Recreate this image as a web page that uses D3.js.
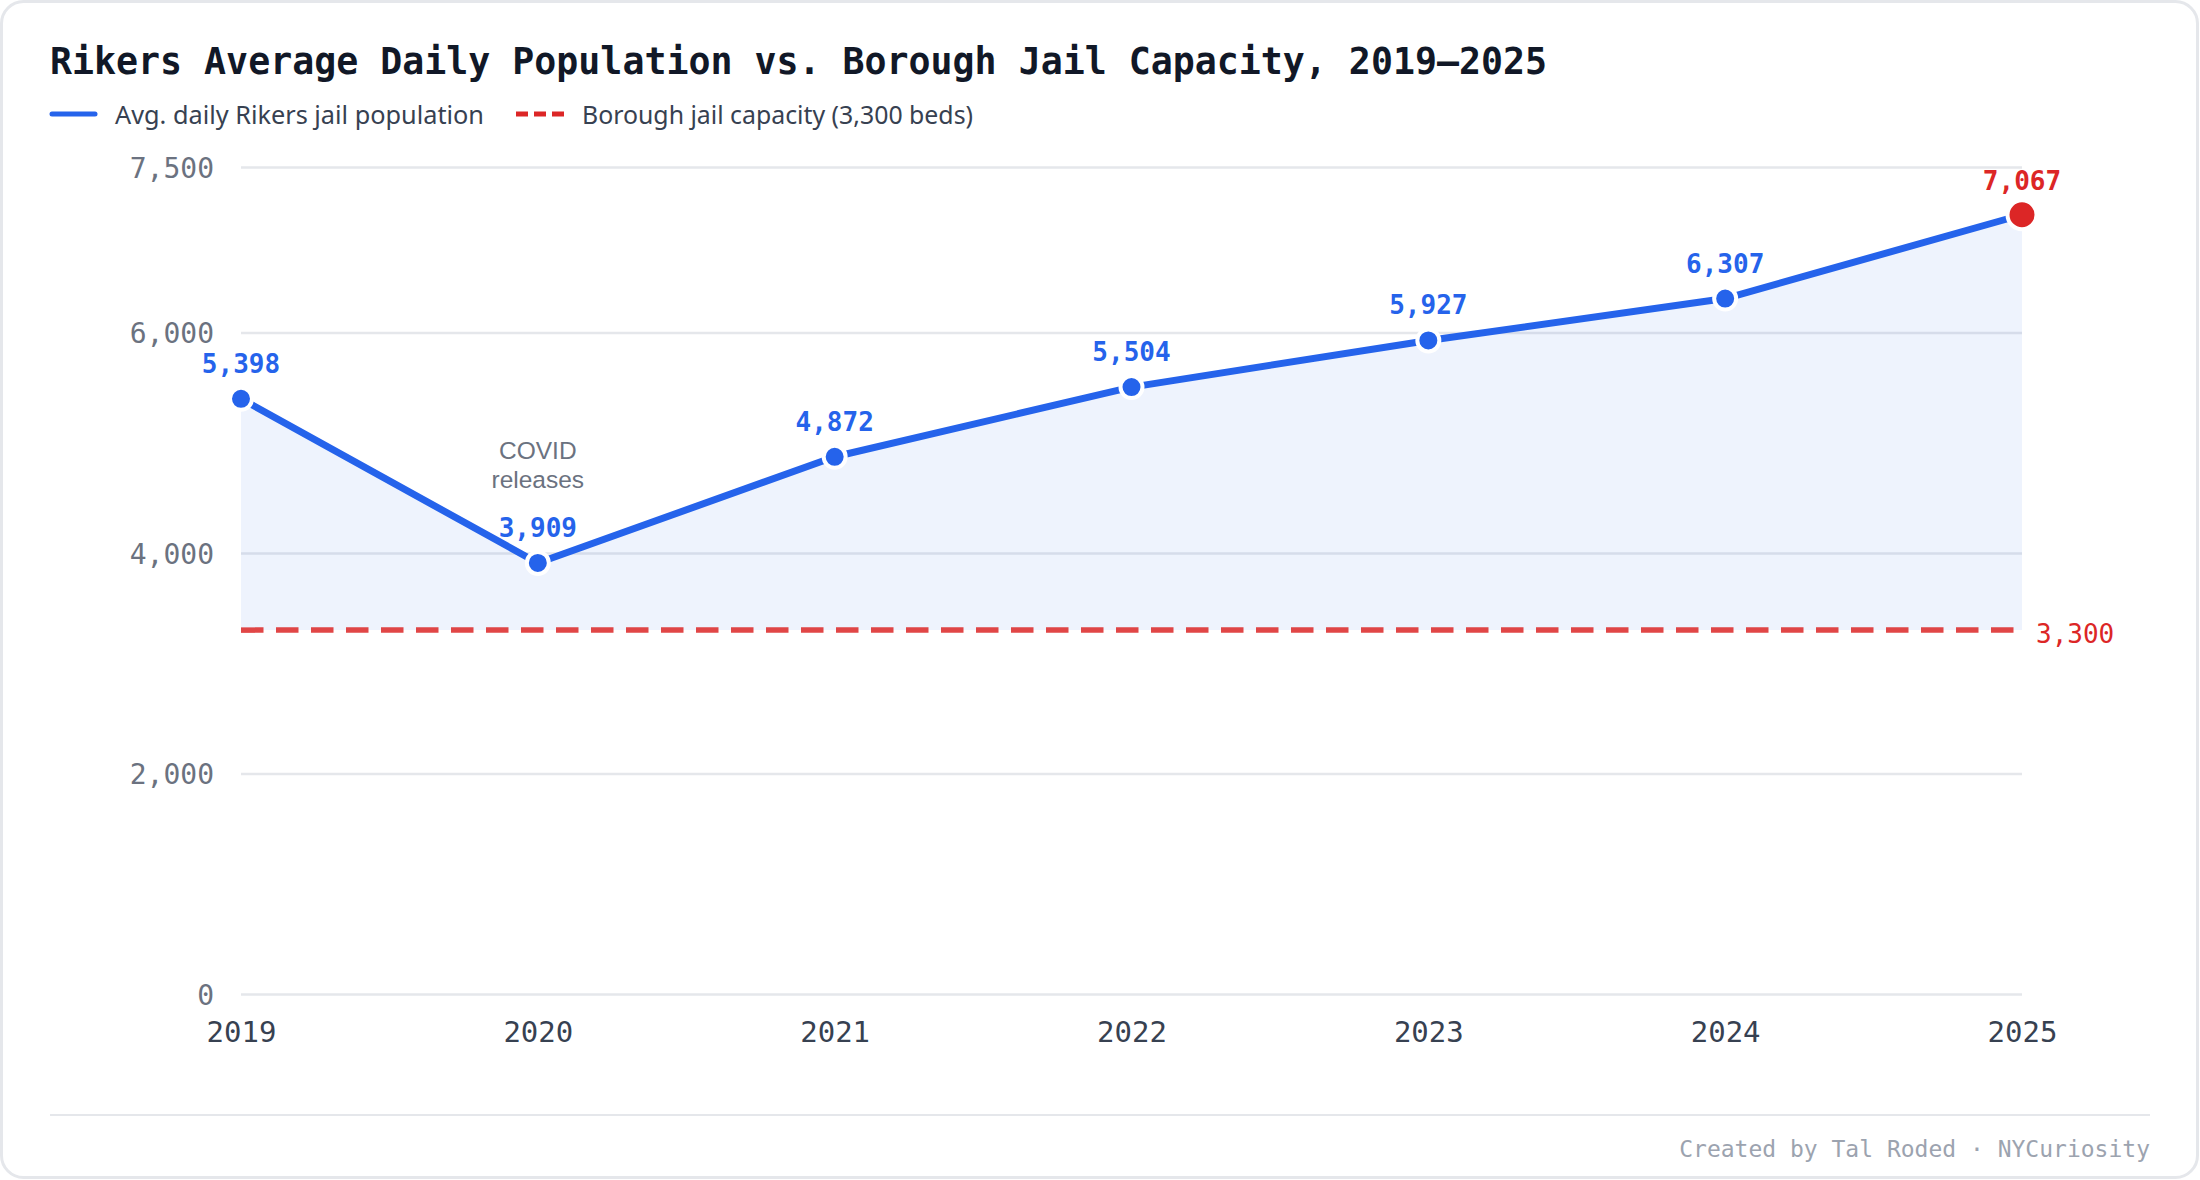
<!DOCTYPE html>
<html>
<head>
<meta charset="utf-8">
<script src="https://cdn.jsdelivr.net/npm/d3@7"></script>
<style>
  html, body { margin: 0; padding: 0; background: #ffffff; }
  svg { display: block; }
</style>
</head>
<body>
<svg id="chart" width="2200" height="1180"></svg>
<script>
// ---- data ----
const years = [2019, 2020, 2021, 2022, 2023, 2024, 2025];
const population = [5398, 3909, 4872, 5504, 5927, 6307, 7067];
const capacity = 3300;
const yTickValues = [0, 2000, 4000, 6000, 7500];
const titleText = "Rikers Average Daily Population vs. Borough Jail Capacity, 2019\u20132025";
const legendLabels = ["Avg. daily Rikers jail population", "Borough jail capacity (3,300 beds)"];
const annotationLines = ["COVID", "releases"];
const annotationYear = 2020;
const footerText = "Created by Tal Roded \u00b7 NYCuriosity";

const data = years.map((yr, i) => ({ year: yr, value: population[i] }));

// ---- layout ----
const W = 2200, H = 1180;
const plotLeft = 241, plotRight = 2022, plotTop = 167, plotBottom = 994;
const blue = "#2563eb", red = "#dc2626";
const mono = "'DejaVu Sans Mono', 'Liberation Mono', monospace";
const sans = "'Noto Sans', 'Liberation Sans', sans-serif";
const helv = "'Liberation Sans', Arial, sans-serif";

const svg = d3.select("#chart");

// card
svg.append("rect")
  .attr("x", 1.5).attr("y", 1.5)
  .attr("width", W - 4).attr("height", H - 4)
  .attr("rx", 22)
  .attr("fill", "#ffffff")
  .attr("stroke", "#e5e7eb").attr("stroke-width", 3);

// scales
const x = d3.scalePoint().domain(years).range([plotLeft, plotRight]);
const y = d3.scaleLinear().domain([0, 7500]).range([plotBottom, plotTop]);

// title
svg.append("text")
  .attr("x", 50).attr("y", 74)
  .attr("font-family", mono).attr("font-weight", "bold")
  .attr("font-size", 36.5).attr("fill", "#111827")
  .attr("textLength", 1497).attr("lengthAdjust", "spacingAndGlyphs")
  .text(titleText);

// legend
const lg = svg.append("g");
lg.append("line").attr("x1", 52).attr("x2", 95).attr("y1", 114).attr("y2", 114)
  .attr("stroke", blue).attr("stroke-width", 5).attr("stroke-linecap", "round");
lg.append("text").attr("x", 115).attr("y", 124)
  .attr("font-family", sans).attr("font-size", 25).attr("fill", "#374151")
  .attr("textLength", 369).attr("lengthAdjust", "spacingAndGlyphs")
  .text(legendLabels[0]);
lg.append("line").attr("x1", 516).attr("x2", 564).attr("y1", 114).attr("y2", 114)
  .attr("stroke", red).attr("stroke-width", 5).attr("stroke-dasharray", "12,6");
lg.append("text").attr("x", 582).attr("y", 124)
  .attr("font-family", sans).attr("font-size", 25).attr("fill", "#374151")
  .attr("textLength", 391).attr("lengthAdjust", "spacingAndGlyphs")
  .text(legendLabels[1]);

// gridlines
const grid = svg.append("g").attr("transform", `translate(${plotLeft},0)`)
  .call(d3.axisLeft(y).tickValues(yTickValues).tickSize(-(plotRight - plotLeft)).tickFormat(""));
grid.select(".domain").remove();
grid.selectAll(".tick line").attr("stroke", "#e5e7eb").attr("stroke-width", 2.5);

// y labels
const yAxis = svg.append("g").attr("transform", `translate(${plotLeft},0)`)
  .call(d3.axisLeft(y).tickValues(yTickValues).tickSize(0).tickPadding(27).tickFormat(d3.format(",")));
yAxis.select(".domain").remove();
yAxis.selectAll("text")
  .attr("font-family", mono).attr("font-size", 28).attr("fill", "#6b7280")
  .attr("dy", "0.36em");

// x labels
const xAxis = svg.append("g").attr("transform", `translate(0,${plotBottom})`)
  .call(d3.axisBottom(x).tickSize(0).tickPadding(0).tickFormat(d3.format("d")));
xAxis.select(".domain").remove();
xAxis.selectAll("text")
  .attr("font-family", mono).attr("font-size", 29).attr("fill", "#374151")
  .attr("y", 48).attr("dy", null);

// area (above capacity)
const area = d3.area()
  .x(d => x(d.year))
  .y0(y(capacity))
  .y1(d => y(d.value));
svg.append("path").datum(data)
  .attr("d", area)
  .attr("fill", blue).attr("fill-opacity", 0.08);

// capacity line
svg.append("line")
  .attr("x1", x(years[0])).attr("x2", x(years[years.length - 1]))
  .attr("y1", y(capacity)).attr("y2", y(capacity))
  .attr("stroke", red).attr("stroke-opacity", 0.85)
  .attr("stroke-width", 5.5).attr("stroke-dasharray", "22.5,12.5");
svg.append("text")
  .attr("x", x(years[years.length - 1]) + 14).attr("y", y(capacity) + 13)
  .attr("font-family", mono).attr("font-size", 26).attr("fill", red)
  .text(d3.format(",")(capacity));

// line
const line = d3.line().x(d => x(d.year)).y(d => y(d.value));
svg.append("path").datum(data)
  .attr("d", line)
  .attr("fill", "none").attr("stroke", blue)
  .attr("stroke-width", 7).attr("stroke-linejoin", "round").attr("stroke-linecap", "round");

// points
const last = data.length - 1;
svg.append("g").selectAll("circle").data(data).join("circle")
  .attr("cx", d => x(d.year)).attr("cy", d => y(d.value))
  .attr("r", (d, i) => i === last ? 14.5 : 11)
  .attr("fill", (d, i) => i === last ? red : blue)
  .attr("stroke", "#ffffff").attr("stroke-width", 4);

// value labels
svg.append("g").selectAll("text").data(data).join("text")
  .attr("x", d => x(d.year))
  .attr("y", (d, i) => y(d.value) - (i === last ? 25 : 26))
  .attr("text-anchor", "middle")
  .attr("font-family", mono).attr("font-weight", "bold").attr("font-size", 26)
  .attr("fill", (d, i) => i === last ? red : blue)
  .text(d => d3.format(",")(d.value));

// annotation
const ann = svg.append("text")
  .attr("x", x(annotationYear)).attr("y", 459)
  .attr("text-anchor", "middle")
  .attr("font-family", helv).attr("font-size", 24.5).attr("fill", "#6b7280");
annotationLines.forEach((t, i) => {
  ann.append("tspan").attr("x", x(annotationYear)).attr("dy", i === 0 ? 0 : 29).text(t);
});

// footer
svg.append("line").attr("x1", 50).attr("x2", 2150).attr("y1", 1115).attr("y2", 1115)
  .attr("stroke", "#e5e7eb").attr("stroke-width", 2);
svg.append("text")
  .attr("x", 2150).attr("y", 1157)
  .attr("text-anchor", "end")
  .attr("font-family", mono).attr("font-size", 23).attr("fill", "#9ca3af")
  .text(footerText);
</script>
</body>
</html>
